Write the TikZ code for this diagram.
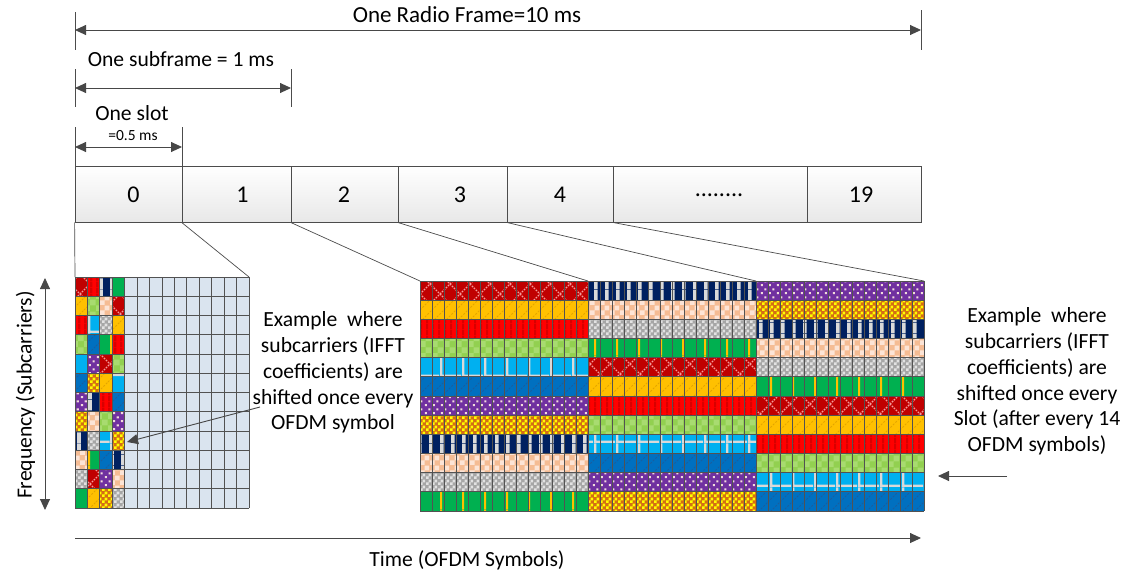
\documentclass[tikz,border=0pt]{standalone}
\usepackage{fontspec}
\setmainfont{Carlito}
\usetikzlibrary{arrows.meta,patterns}
\definecolor{cDR}{HTML}{C00000}
\definecolor{cPink}{HTML}{F39A9A}
\definecolor{cGold}{HTML}{FFC000}
\definecolor{cGoldD}{HTML}{E3A500}
\definecolor{cRed}{HTML}{FF0000}
\definecolor{cRedD}{HTML}{D80000}
\definecolor{cLG}{HTML}{92D050}
\definecolor{cLGL}{HTML}{A8DB70}
\definecolor{cCyan}{HTML}{00B0F0}
\definecolor{cLGray}{HTML}{D9D9D9}
\definecolor{cBlue}{HTML}{0070C0}
\definecolor{cBlueD}{HTML}{1A5E9E}
\definecolor{cPurple}{HTML}{7030A0}
\definecolor{cDot}{HTML}{F2DCDB}
\definecolor{cOrange}{HTML}{D46E14}
\definecolor{cYellow}{HTML}{FFFF00}
\definecolor{cNavy}{HTML}{002060}
\definecolor{cPeach}{HTML}{F5BC94}
\definecolor{cPeachL}{HTML}{FCE4D6}
\definecolor{cGray}{HTML}{A6A6A6}
\definecolor{cGrayL}{HTML}{E2E2E2}
\definecolor{cGreen}{HTML}{00B050}
\definecolor{cCell}{HTML}{DAE4EF}
\pgfdeclarepatternformonly{xLat}{\pgfqpoint{-1pt}{-1pt}}{\pgfqpoint{21pt}{21pt}}{\pgfqpoint{20pt}{20pt}}{%
  \pgfsetlinewidth{1.4pt}\pgfsetdash{{1.6pt}{1.2pt}}{0pt}%
  \pgfpathmoveto{\pgfqpoint{0pt}{0pt}}\pgfpathlineto{\pgfqpoint{20pt}{20pt}}%
  \pgfpathmoveto{\pgfqpoint{0pt}{20pt}}\pgfpathlineto{\pgfqpoint{20pt}{0pt}}%
  \pgfusepath{stroke}}
\pgfdeclarepatternformonly{diagD}{\pgfqpoint{-1pt}{-1pt}}{\pgfqpoint{13pt}{13pt}}{\pgfqpoint{12pt}{12pt}}{%
  \pgfsetlinewidth{0.9pt}\pgfsetdash{{2pt}{1.5pt}}{0pt}%
  \pgfpathmoveto{\pgfqpoint{0pt}{0pt}}\pgfpathlineto{\pgfqpoint{12pt}{12pt}}%
  \pgfusepath{stroke}}
\pgfdeclarepatternformonly{vStr}{\pgfpointorigin}{\pgfqpoint{6pt}{6pt}}{\pgfqpoint{6pt}{6pt}}{%
  \pgfpathrectangle{\pgfpointorigin}{\pgfqpoint{2.5pt}{6pt}}\pgfusepath{fill}}
\pgfdeclarepatternformonly{chkC}{\pgfpointorigin}{\pgfqpoint{12pt}{12pt}}{\pgfqpoint{12pt}{12pt}}{%
  \pgfpathrectangle{\pgfpointorigin}{\pgfqpoint{6pt}{6pt}}%
  \pgfpathrectangle{\pgfqpoint{6pt}{6pt}}{\pgfqpoint{6pt}{6pt}}\pgfusepath{fill}}
\pgfdeclarepatternformonly{chkB}{\pgfpointorigin}{\pgfqpoint{10pt}{10pt}}{\pgfqpoint{10pt}{10pt}}{%
  \pgfpathrectangle{\pgfpointorigin}{\pgfqpoint{5pt}{5pt}}%
  \pgfpathrectangle{\pgfqpoint{5pt}{5pt}}{\pgfqpoint{5pt}{5pt}}\pgfusepath{fill}}
\pgfdeclarepatternformonly{chkA}{\pgfpointorigin}{\pgfqpoint{6pt}{6pt}}{\pgfqpoint{6pt}{6pt}}{%
  \pgfpathrectangle{\pgfpointorigin}{\pgfqpoint{3pt}{3pt}}%
  \pgfpathrectangle{\pgfqpoint{3pt}{3pt}}{\pgfqpoint{3pt}{3pt}}\pgfusepath{fill}}
\pgfdeclarepatternformonly{cyanG}{\pgfpointorigin}{\pgfqpoint{22pt}{22pt}}{\pgfqpoint{22pt}{22pt}}{%
  \pgfpathrectangle{\pgfpointorigin}{\pgfqpoint{2.5pt}{22pt}}%
  \pgfpathrectangle{\pgfpointorigin}{\pgfqpoint{22pt}{2.5pt}}\pgfusepath{fill}}
\pgfdeclarepatternformonly{dotP}{\pgfpointorigin}{\pgfqpoint{8pt}{8pt}}{\pgfqpoint{8pt}{8pt}}{%
  \pgfpathrectangle{\pgfqpoint{1pt}{1pt}}{\pgfqpoint{2.2pt}{2.2pt}}%
  \pgfpathrectangle{\pgfqpoint{5pt}{5pt}}{\pgfqpoint{2.2pt}{2.2pt}}\pgfusepath{fill}}
\pgfdeclarepatternformonly{navyS}{\pgfpointorigin}{\pgfqpoint{11pt}{11pt}}{\pgfqpoint{11pt}{11pt}}{%
  \pgfpathrectangle{\pgfpointorigin}{\pgfqpoint{4pt}{11pt}}\pgfusepath{fill}}
\pgfdeclarepatternformonly{greenS}{\pgfpointorigin}{\pgfqpoint{22pt}{22pt}}{\pgfqpoint{22pt}{22pt}}{%
  \pgfpathrectangle{\pgfpointorigin}{\pgfqpoint{2.2pt}{22pt}}\pgfusepath{fill}}
\begin{document}
\begin{tikzpicture}[x=1pt,y=-1pt,
  pat1/.style={fill=cDR, postaction={pattern=xLat, pattern color=cPink}},
  pat2/.style={fill=cGold, postaction={pattern=diagD, pattern color=cGoldD}},
  pat3/.style={fill=cRed, postaction={pattern=vStr, pattern color=cRedD}},
  pat4/.style={fill=cLG, postaction={pattern=chkC, pattern color=cLGL}},
  pat5/.style={fill=cCyan, postaction={pattern=cyanG, pattern color=cLGray}},
  pat6/.style={fill=cBlue, postaction={pattern=diagD, pattern color=cBlueD}},
  pat7/.style={fill=cPurple, postaction={pattern=dotP, pattern color=cDot}},
  pat8/.style={fill=cOrange, postaction={pattern=chkA, pattern color=cYellow}},
  pat9/.style={fill=cNavy, postaction={pattern=navyS, pattern color=cLGray}},
  pat10/.style={fill=cPeach, postaction={pattern=chkB, pattern color=cPeachL}},
  pat11/.style={fill=cGray, postaction={pattern=chkA, pattern color=cGrayL}},
  pat12/.style={fill=cGreen, postaction={pattern=greenS, pattern color=cGold}},
  gridln/.style={draw=black!68, line width=0.9pt},
  conn/.style={draw=black!70, line width=0.7pt},
  tick/.style={draw=black!70, line width=0.8pt},
  arr/.style={draw=black!72, line width=0.9pt, -{Triangle[length=11pt,width=10pt]}},
  dimarr/.style={draw=black!72, line width=0.9pt, {Triangle[length=11pt,width=10pt]}-{Triangle[length=11pt,width=10pt]}},
  box/.style={draw=black!70, line width=0.8pt, top color=white, bottom color=black!9, minimum height=56pt, inner sep=0pt},
  blbl/.style={font=\fontsize{24}{28}\selectfont, inner sep=0pt},
  lbl/.style={font=\fontsize{21.6}{25.8}\selectfont, inner sep=0pt},
  biglbl/.style={font=\fontsize{23}{27}\selectfont, inner sep=0pt},
  smalllbl/.style={font=\fontsize{15.5}{18}\selectfont, inner sep=0pt},
  txt/.style={font=\fontsize{21.6}{25.8}\selectfont, align=center, inner sep=0pt}
]
\fill[white] (0,0) rectangle (1130,574);
\useasboundingbox (0,0) rectangle (1130,574);

% ---------- dimension markers
\coordinate (fL) at (75,30); \coordinate (fR) at (921,30);
\coordinate (sL) at (75,88); \coordinate (sR) at (291,88);
\coordinate (oL) at (75,147); \coordinate (oR) at (182,147);
\draw[tick] (75,12) -- (75,50);
\draw[tick] (921,10) -- (921,50);
\draw[tick] (75,69) -- (75,107);
\draw[tick] (291,69) -- (291,107);
\draw[tick] (75,127) -- (75,166);
\draw[tick] (182,127) -- (182,166);
\draw[dimarr] (fL) -- (fR);
\draw[dimarr] (sL) -- (sR);
\draw[dimarr] (oL) -- (oR);
\node[biglbl, anchor=base] (tFrame) at (467,22.5) {One Radio Frame=10 ms};
\node[lbl, anchor=base] (tSub) at (181,66.7) {One subframe = 1 ms};
\node[lbl, anchor=base] (tSlot) at (132,120) {One slot};
\node[smalllbl, anchor=base] (tHalf) at (133,140.7) {=0.5 ms};

% ---------- slot boxes
\node[box, minimum width=107pt] (b0) at (128.5,194) {};
\node[box, minimum width=109pt] (b1) at (236.5,194) {};
\node[box, minimum width=107pt] (b2) at (344.5,194) {};
\node[box, minimum width=109pt] (b3) at (452.5,194) {};
\node[box, minimum width=106pt] (b4) at (560,194) {};
\node[box, minimum width=194pt] (b5) at (710,194) {};
\node[box, minimum width=114pt] (b19) at (864,194) {};
\node[blbl] (t0) at (133.5,195) {0};
\node[blbl] (t1) at (242.5,195) {1};
\node[blbl] (t2) at (344,195) {2};
\node[blbl] (t3) at (460,195) {3};
\node[blbl] (t4) at (560,195) {4};
\node[blbl] (t5) at (719,195) {........};
\node[blbl] (t19) at (861,195) {19};

% ---------- left grid (one slot, shift every symbol)
\def\lgw{12.428571}
\def\lgh{19.25}
\foreach \cc/\oo in {0/0,1/2,2/8,3/11}{
  \foreach \rr in {0,...,11}{
    \pgfmathtruncatemacro{\ki}{mod(\rr+\oo,12)+1}
    \path[pat\ki] ({75+\cc*\lgw},{277+\rr*\lgh}) rectangle ++(\lgw,\lgh);
  }
}
\fill[cCell] ({75+4*\lgw},277) rectangle (249,508);
\foreach \ii in {0,...,14} \draw[gridln] ({75+\ii*\lgw},277) -- ({75+\ii*\lgw},508);
\foreach \rr in {0,...,12} \draw[gridln] (75,{277+\rr*\lgh}) -- (249,{277+\rr*\lgh});
\coordinate (lgNW) at (75,277);
\coordinate (lgNE) at (249,277);

% ---------- big grid (three slots, shift every slot)
\def\bgh{19.1667}
\foreach \bb/\oo in {0/0,1/8,2/6}{
  \foreach \rr in {0,...,11}{
    \pgfmathtruncatemacro{\ki}{mod(\rr+\oo,12)+1}
    \path[pat\ki] ({420+\bb*168},{281+\rr*\bgh}) rectangle ++(168,\bgh);
  }
}
\foreach \ii in {0,...,42} \draw[gridln] ({420+\ii*12},281) -- ({420+\ii*12},511);
\foreach \rr in {0,...,12} \draw[gridln] (420,{281+\rr*\bgh}) -- (924,{281+\rr*\bgh});
\coordinate (bgA) at (420,281);
\coordinate (bgB) at (588,281);
\coordinate (bgC) at (756,281);
\coordinate (bgD) at (924,281);

% ---------- expansion connectors
\draw[conn] (b0.south west) -- (lgNW);
\draw[conn] (b1.south west) -- (lgNE);
\draw[conn] (b2.south west) -- (bgA);
\draw[conn] (b3.south west) -- (bgB);
\draw[conn] (b4.south west) -- (bgC);
\draw[conn] (b5.south west) -- (bgD);

% ---------- axes
\coordinate (qT) at (45,278); \coordinate (qB) at (45,510);
\draw[dimarr] (qT) -- (qB);
\node[lbl, anchor=base, rotate=90] (tFreq) at (31.5,395) {Frequency (Subcarriers)};
\coordinate (tmL) at (75,538); \coordinate (tmR) at (921,538);
\draw[arr] (tmL) -- (tmR);
\node[lbl, anchor=base] (tTime) at (467,566) {Time (OFDM Symbols)};

% ---------- explanations
\node[txt] (eL) at (333,372.6) {Example\ \ where\\subcarriers (IFFT\\coefficients) are\\shifted once every\\OFDM symbol};
\node[txt] (eR) at (1037,381.5) {Example\ \ where\\subcarriers (IFFT\\coefficients) are\\shifted once every\\Slot (after every 14\\OFDM symbols)};
\coordinate (pL1) at (260,407); \coordinate (pL2) at (127,442);
\draw[arr] (pL1) -- (pL2);
\coordinate (pR1) at (1007,476); \coordinate (pR2) at (938,476);
\draw[arr] (pR1) -- (pR2);
\end{tikzpicture}
\end{document}
